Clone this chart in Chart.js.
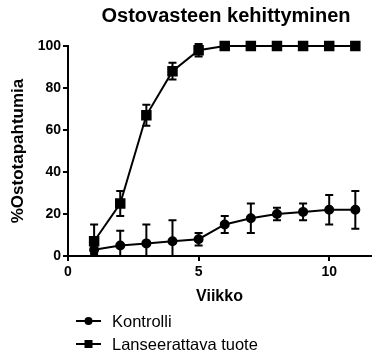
<!DOCTYPE html>
<html>
<head>
<meta charset="utf-8">
<script src="https://cdn.jsdelivr.net/npm/chart.js@4"></script>
<style>
  html, body { margin: 0; padding: 0; background: #fff; }
  #wrap { width: 379px; height: 362px; }
</style>
</head>
<body>
<div id="wrap"><canvas id="chart" width="379" height="362"></canvas></div>
<script>
// --- Data ---
const weeks = [1, 2, 3, 4, 5, 6, 7, 8, 9, 10, 11];
const controlValues = [3, 5, 6, 7, 8, 15, 18, 20, 21, 22, 22];
const controlErrors = [2, 7, 9, 10, 3, 4, 7, 3, 4, 7, 9];
const launchValues = [7, 25, 67, 88, 98, 100, 100, 100, 100, 100, 100];
const launchErrors = [8, 6, 5, 4, 3, 1, 0, 0, 0, 0, 0];
const xTicks = [0, 5, 10];
const yTicks = [0, 20, 40, 60, 80, 100];
const seriesNames = ['Kontrolli', 'Lanseerattava tuote'];
const chartTitle = 'Ostovasteen kehittyminen';

const FONT = "'Liberation Sans', Arial, Helvetica, sans-serif";
Chart.defaults.font.family = FONT;
Chart.defaults.color = '#000';

// Error bars drawn through the chart's own scales
const errorBars = {
  id: 'errorBars',
  beforeDatasetsDraw(chart) {
    const ctx = chart.ctx;
    const y = chart.scales.y;
    const area = chart.chartArea;
    ctx.save();
    ctx.beginPath();
    ctx.rect(area.left, area.top - 4, area.right - area.left, area.bottom - area.top + 4);
    ctx.clip();
    ctx.strokeStyle = '#000';
    ctx.lineWidth = 2;
    chart.data.datasets.forEach((ds, i) => {
      const meta = chart.getDatasetMeta(i);
      meta.data.forEach((pt, j) => {
        const e = ds.errors[j];
        if (!e) return;
        const v = ds.data[j].y;
        const top = y.getPixelForValue(v + e);
        const bot = y.getPixelForValue(v - e);
        ctx.beginPath();
        ctx.moveTo(pt.x, top); ctx.lineTo(pt.x, bot);
        ctx.moveTo(pt.x - 4, top); ctx.lineTo(pt.x + 4, top);
        ctx.moveTo(pt.x - 4, bot); ctx.lineTo(pt.x + 4, bot);
        ctx.stroke();
      });
    });
    ctx.restore();
  }
};

// Title (offset to the right like the original) and stacked legend
const annotations = {
  id: 'annotations',
  afterDraw(chart) {
    const ctx = chart.ctx;
    ctx.save();
    ctx.fillStyle = '#000';
    ctx.font = 'bold 20px ' + FONT;
    ctx.textAlign = 'center';
    ctx.textBaseline = 'middle';
    ctx.fillText(chartTitle, 226, 16);

    ctx.textAlign = 'left';
    chart.data.datasets.forEach((ds, i) => {
      const cy = 321 + i * 23;
      ctx.strokeStyle = '#000';
      ctx.lineWidth = 2;
      ctx.beginPath();
      ctx.moveTo(76, cy); ctx.lineTo(101, cy);
      ctx.stroke();
      if (ds.pointStyle === 'rect') {
        ctx.fillRect(84.5, cy - 4, 8, 8);
      } else {
        ctx.beginPath();
        ctx.arc(88.5, cy, 4, 0, Math.PI * 2);
        ctx.fill();
      }
      ctx.font = '16.5px ' + FONT;
      ctx.fillText(ds.label, 112, cy + 1);
    });
    ctx.restore();
  }
};

const axisLine = { color: '#000', width: 2 };
const tickGrid = { display: true, drawOnChartArea: false, drawTicks: true, tickLength: 5, color: '#000', lineWidth: 2 };

new Chart(document.getElementById('chart'), {
  type: 'line',
  data: {
    datasets: [
      {
        label: seriesNames[0],
        data: weeks.map((w, i) => ({ x: w, y: controlValues[i] })),
        errors: controlErrors,
        borderColor: '#000',
        backgroundColor: '#000',
        borderWidth: 2,
        pointStyle: 'circle',
        pointRadius: 4,
        clip: false
      },
      {
        label: seriesNames[1],
        data: weeks.map((w, i) => ({ x: w, y: launchValues[i] })),
        errors: launchErrors,
        borderColor: '#000',
        backgroundColor: '#000',
        borderWidth: 2,
        pointStyle: 'rect',
        pointRadius: 6,
        clip: false
      }
    ]
  },
  options: {
    responsive: false,
    animation: false,
    layout: { padding: { left: 0, right: 6, top: 46, bottom: 56 } },
    plugins: {
      legend: { display: false },
      tooltip: { enabled: false },
      title: { display: false }
    },
    scales: {
      x: {
        type: 'linear',
        min: 0,
        max: 11.6,
        afterBuildTicks: s => { s.ticks = xTicks.map(v => ({ value: v })); },
        afterFit: s => { s.height = 50; },
        border: axisLine,
        grid: tickGrid,
        ticks: { font: { size: 14, weight: 'bold' }, color: '#000', padding: 3, maxRotation: 0 },
        title: { display: true, text: 'Viikko', font: { size: 16, weight: 'bold' }, color: '#000', padding: { top: 0, bottom: 0 } }
      },
      y: {
        min: 0,
        max: 100,
        afterBuildTicks: s => { s.ticks = yTicks.map(v => ({ value: v })); },
        afterFit: s => { s.width = 68; },
        border: axisLine,
        grid: tickGrid,
        ticks: { font: { size: 14, weight: 'bold' }, color: '#000', padding: 2 },
        title: { display: true, text: '%Ostotapahtumia', font: { size: 17, weight: 'bold' }, color: '#000', padding: { top: 8, bottom: 0 } }
      }
    }
  },
  plugins: [errorBars, annotations]
});
</script>
</body>
</html>
